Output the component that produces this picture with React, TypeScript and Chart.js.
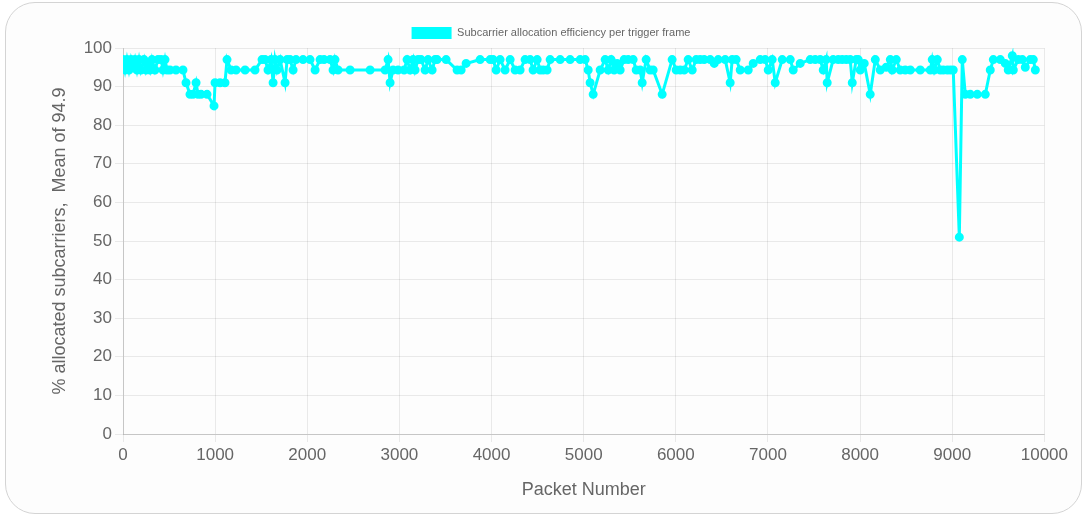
import React, { useEffect, useRef } from "react";
import { Chart, registerables } from "chart.js";

Chart.register(...registerables);

const seriesLabel = "Subcarrier allocation efficiency per trigger frame";
const xTitle = "Packet Number";
const yTitle = "% allocated subcarriers,  Mean of 94.9";

const packetNumbers = [
  0, 22, 43, 65, 87, 109, 130, 152, 174, 195, 228, 250, 271, 293, 315, 347, 380, 413, 434, 456,
  478, 510, 575, 651, 684, 727, 760, 793, 814, 847, 912, 988, 999, 1053, 1107, 1129, 1173, 1227, 1325, 1433,
  1509, 1542, 1574, 1607, 1629, 1650, 1672, 1705, 1759, 1781, 1813, 1846, 1878, 1954, 2030, 2085, 2139, 2182, 2247, 2280,
  2301, 2334, 2465, 2682, 2845, 2877, 2899, 2931, 2986, 3051, 3083, 3116, 3149, 3170, 3203, 3235, 3279, 3311, 3355, 3387,
  3409, 3507, 3626, 3670, 3724, 3876, 3985, 4017, 4050, 4093, 4147, 4202, 4256, 4310, 4364, 4419, 4451, 4495, 4527, 4560,
  4603, 4636, 4745, 4853, 4962, 5016, 5049, 5070, 5103, 5179, 5233, 5266, 5298, 5331, 5363, 5396, 5439, 5483, 5537, 5570,
  5613, 5635, 5678, 5721, 5754, 5852, 5960, 6004, 6047, 6091, 6134, 6178, 6221, 6264, 6308, 6373, 6417, 6460, 6536, 6590,
  6612, 6655, 6699, 6786, 6840, 6916, 6970, 7003, 7046, 7079, 7155, 7242, 7274, 7350, 7459, 7513, 7567, 7600, 7632, 7643,
  7708, 7763, 7806, 7850, 7893, 7915, 7958, 7980, 8002, 8045, 8110, 8165, 8219, 8284, 8328, 8349, 8393, 8436, 8490, 8545,
  8653, 8762, 8783, 8805, 8838, 8870, 8903, 8946, 8979, 9011, 9077, 9109, 9142, 9196, 9272, 9359, 9413, 9446, 9522, 9576,
  9608, 9652, 9663, 9717, 9761, 9793, 9847, 9880, 9902
];

const efficiency = [
  97, 94.3, 97, 94.3, 97, 95, 97, 94.3, 97, 94.3, 97, 94.3, 96, 94.3, 97, 94.3, 97, 97, 94.3, 97,
  94.3, 94.3, 94.3, 94.3, 91, 88, 88, 91, 88, 88, 88, 85, 91, 91, 91, 97, 94.3, 94.3, 94.3, 94.3,
  97, 97, 94.3, 97, 91, 97, 94.3, 97, 91, 97, 97, 94.3, 97, 97, 97, 94.3, 97, 97, 97, 94.3,
  97, 94.3, 94.3, 94.3, 94.3, 97, 91, 94.3, 94.3, 94.3, 97, 94.3, 97, 94.3, 97, 97, 94.3, 97, 94.3, 97,
  97, 97, 94.3, 94.3, 96, 97, 97, 97, 94.3, 97, 94.3, 97, 94.3, 94.3, 97, 97, 94.3, 97, 94.3, 94.3,
  94.3, 97, 97, 97, 97, 97, 94.3, 91, 88, 94.3, 97, 94.3, 97, 94.3, 96, 94.3, 97, 97, 97, 94.3,
  94.3, 91, 97, 94.3, 94.3, 88, 97, 94.3, 94.3, 94.3, 97, 94.3, 97, 97, 97, 97, 96, 97, 97, 91,
  97, 97, 94.3, 94.3, 96, 97, 97, 94.3, 97, 91, 97, 97, 94.3, 96, 97, 97, 97, 94.3, 97, 91,
  97, 97, 97, 97, 97, 91, 97, 97, 94.3, 96, 88, 97, 94.3, 95, 97, 94.3, 97, 94.3, 94.3, 94.3,
  94.3, 94.3, 97, 94.3, 97, 94.3, 94.3, 94.3, 94.3, 94.3, 51, 97, 88, 88, 88, 88, 94.3, 97, 97, 96,
  94.3, 98, 94.3, 97, 97, 95, 97, 97, 94.3
];

const xTicksMin = 0;
const xTicksMax = 10000;
const xStep = 1000;
const yTicksMin = 0;
const yTicksMax = 100;
const yStep = 10;

const FONT = "'Liberation Sans', Arial, Helvetica, sans-serif";
const GREY = "#666";

const legendHeightPlugin = {
  id: "legendHeight",
  beforeInit(chart: any) {
    const leg = chart.legend;
    if (!leg) return;
    const orig = leg.fit.bind(leg);
    leg.fit = () => {
      orig();
      leg.height = 31;
    };
  },
};

export default function App() {
  const ref = useRef<HTMLCanvasElement | null>(null);

  useEffect(() => {
    if (!ref.current) return;
    const data = packetNumbers.map((x, i) => ({ x, y: efficiency[i] }));
    const chart = new Chart(ref.current, {
      type: "line",
      data: {
        datasets: [
          {
            label: seriesLabel,
            data,
            borderColor: "#00ffff",
            backgroundColor: "#00ffff",
            pointBackgroundColor: "#00ffff",
            pointBorderColor: "#00ffff",
            borderWidth: 3,
            pointRadius: 3,
            tension: 0,
            fill: false,
          },
        ],
      },
      plugins: [legendHeightPlugin],
      options: {
        responsive: false,
        animation: false,
        devicePixelRatio: 1,
        layout: { padding: 0 },
        plugins: {
          legend: {
            display: true,
            labels: {
              boxWidth: 40,
              boxHeight: 12,
              padding: 10,
              color: GREY,
              font: { family: FONT, size: 11 },
              generateLabels: (c: any) =>
                Chart.defaults.plugins.legend.labels
                  .generateLabels(c)
                  .map((item: any) => ({ ...item, lineWidth: 0 })),
            },
          },
          tooltip: { enabled: false },
        },
        scales: {
          x: {
            type: "linear",
            min: xTicksMin,
            max: xTicksMax,
            ticks: {
              stepSize: xStep,
              color: GREY,
              font: { family: FONT, size: 17 },
              maxRotation: 0,
              callback: (v: any) => String(v),
            },
            grid: { color: "rgba(0,0,0,0.08)" },
            border: { color: "rgba(0,0,0,0.15)" },
            title: {
              display: true,
              text: xTitle,
              color: GREY,
              font: { family: FONT, size: 18 },
              padding: { top: 11, bottom: 4 },
            },
          },
          y: {
            type: "linear",
            min: yTicksMin,
            max: yTicksMax,
            ticks: {
              stepSize: yStep,
              color: GREY,
              font: { family: FONT, size: 17 },
              callback: (v: any) => String(v),
            },
            grid: { color: "rgba(0,0,0,0.08)" },
            border: { color: "rgba(0,0,0,0.15)" },
            title: {
              display: true,
              text: yTitle,
              color: GREY,
              font: { family: FONT, size: 18 },
              padding: { top: 18, bottom: 0 },
            },
            afterFit: (scale: any) => {
              scale.width = 92;
            },
          },
        },
      },
    });
    return () => chart.destroy();
  }, []);

  return (
    <div style={{ position: "absolute", left: 0, top: 0, width: 1086, height: 518, background: "#ffffff" }}>
      <div
        style={{
          position: "absolute",
          left: 5,
          top: 2,
          width: 1077,
          height: 512,
          border: "1px solid #d4d4d4",
          borderRadius: 30,
          background: "#fdfdfd",
          boxSizing: "border-box",
        }}
      />
      <div style={{ position: "absolute", left: 31, top: 17, width: 1037, height: 488, overflow: "hidden" }}>
        <canvas ref={ref} width={1040} height={488} style={{ display: "block" }} />
      </div>
    </div>
  );
}
